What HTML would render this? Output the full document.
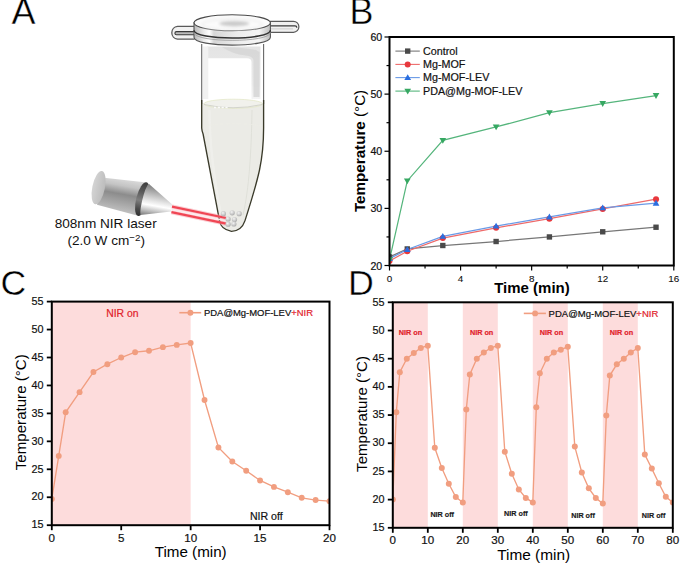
<!DOCTYPE html>
<html><head><meta charset="utf-8"><style>
html,body{margin:0;padding:0;background:#fff;}
body{width:685px;height:570px;overflow:hidden;font-family:"Liberation Sans", sans-serif;}
svg{display:block;}
</style></head><body>
<svg width="685" height="570" viewBox="0 0 685 570" font-family='"Liberation Sans", sans-serif'>
<rect width="685" height="570" fill="#fff"/>
<clipPath id="clipB"><rect x="389.5" y="37" width="284.3" height="228.5"/></clipPath>
<clipPath id="clipC"><rect x="51.8" y="301.6" width="277.7" height="223.6"/></clipPath>
<clipPath id="clipD"><rect x="392.8" y="302.3" width="280" height="225.5"/></clipPath>
<defs>
<linearGradient id="cyl" x1="0" y1="0" x2="0" y2="1">
<stop offset="0" stop-color="#f2f2f2"/><stop offset="0.35" stop-color="#bdbdbd"/><stop offset="0.6" stop-color="#8e8e8e"/><stop offset="0.85" stop-color="#b0b0b0"/><stop offset="1" stop-color="#d8d8d8"/>
</linearGradient>
<linearGradient id="cone" x1="0" y1="0" x2="0" y2="1">
<stop offset="0" stop-color="#9a9a9a"/><stop offset="0.35" stop-color="#e6e6e6"/><stop offset="0.7" stop-color="#bdbdbd"/><stop offset="1" stop-color="#7a7a7a"/>
</linearGradient>
<linearGradient id="endcap" x1="0" y1="0" x2="1" y2="0">
<stop offset="0" stop-color="#d0d0d0"/><stop offset="1" stop-color="#a8a8a8"/>
</linearGradient>
<linearGradient id="ring" x1="0" y1="0" x2="1" y2="0">
<stop offset="0" stop-color="#8a8a8a"/><stop offset="0.5" stop-color="#3a3a3a"/><stop offset="1" stop-color="#6a6a6a"/>
</linearGradient>
<radialGradient id="bead" cx="0.4" cy="0.35" r="0.7">
<stop offset="0" stop-color="#f4f4f4"/><stop offset="1" stop-color="#a9a9a9"/>
</radialGradient>
<linearGradient id="lidtop" x1="0" y1="0" x2="0" y2="1">
<stop offset="0" stop-color="#fafafa"/><stop offset="1" stop-color="#ececec"/>
</linearGradient>
</defs>
<text x="11.5" y="24.2" font-size="36" fill="#000" stroke="#fff" stroke-width="0.45">A</text>
<path d="M201.7,44 L201.7,128 Q201.9,131 203.1,134 L219.6,221 Q221,229.5 231.5,231.3 Q241.5,231 245,220.6 C250,205 256,186 259.5,170 C262,158 263.6,145 263.6,128 L263.6,44 Z" fill="#ffffff" stroke="none"/>
<linearGradient id="strip" x1="0" y1="0" x2="0" y2="1"><stop offset="0" stop-color="#e4e4e4"/><stop offset="0.7" stop-color="#eaeaea"/><stop offset="1" stop-color="#f4f4f4"/></linearGradient>
<path d="M207,46.5 L260.5,46.5 L260.5,99 L251.5,99 L251.5,62 Q251.5,58.5 247,58.3 L207,58.3 Z" fill="url(#strip)"/>
<path d="M222,47 Q245,47.5 256,50 L259.5,52 L259.5,97 L253.5,97 L253.5,60 Q252.5,56 246,55.5 Q232,54 222,47 Z" fill="#d6d6d6" opacity="0.85"/>
<path d="M202.7,46.5 L208.3,46.5 L208.3,99 L202.7,99 Z" fill="#f1f1f1"/>
<path d="M202.2,103.5 L202.2,128 Q202.4,131 203.6,134 L220.1,221 Q221.5,229 231.5,230.8 Q241,230.5 244.5,220.6 C249.5,205 255.5,186 259,170 C261.5,158 263.1,145 263.1,128 L263.1,103.5 Z" fill="#ebebe6"/>
<ellipse cx="233.2" cy="103.8" rx="29.2" ry="4.6" fill="#f1f1ec" stroke="#e2e6c4" stroke-width="0.7"/>
<path d="M204,104.5 Q233,111 262.3,104.5" fill="none" stroke="#cfd0c8" stroke-width="0.9"/>
<path d="M214,107.5 L229,107.5" stroke="#fafafa" stroke-width="1.6" stroke-dasharray="2.2 1.6"/>
<path d="M209.5,110 C209.5,140 214,180 222,220" stroke="#f0f0ec" stroke-width="2.4" fill="none" opacity="0.8"/>
<path d="M252,110 C251.5,150 249,190 243,215" stroke="#dcddd5" stroke-width="0.8" fill="none"/>
<path d="M203,126 Q233,121 263,126" stroke="#ecece6" stroke-width="0.8" fill="none"/>
<path d="M201.7,44 L201.7,104" stroke="#666" stroke-width="1.1" fill="none"/>
<path d="M263.6,44 L263.6,104" stroke="#666" stroke-width="1.1" fill="none"/>
<path d="M201.7,100 L201.7,128 Q201.9,131 203.1,134 L219.6,221 Q221,229.5 231.5,231.3 Q241.5,231 245,220.6 C250,205 256,186 259.5,170 C262,158 263.6,145 263.6,128 L263.6,100" stroke="#3a3a2a" stroke-width="1.35" fill="none"/>
<path d="M194.5,26.3 L177.5,26.3 A6.5,6.5 0 0 0 177.5,39.2 L194.5,39.2" fill="#f2f2f2" stroke="#5a5a5a" stroke-width="1.3"/>
<path d="M194.5,31.6 L176.5,31.6 A1.6,1.6 0 0 0 176.5,34.8 L194.5,34.8" fill="#bdbdbd" stroke="#3a3a3a" stroke-width="1.1"/>
<path d="M270,21.3 L293.5,21.3 A5.4,5.5 0 0 1 293.5,32.3 L270,32.3" fill="#f0f0f0" stroke="#5a5a5a" stroke-width="1.2"/>
<path d="M270,25.9 L295,25.9 A1.8,1.8 0 0 1 296.8,27.6" fill="none" stroke="#3a3a3a" stroke-width="1.3"/>
<path d="M271,28.8 L293,28.8" stroke="#dadada" stroke-width="1.6"/>
<linearGradient id="band" x1="0" y1="0" x2="1" y2="0"><stop offset="0" stop-color="#b8b8b8"/><stop offset="0.12" stop-color="#e8e8e8"/><stop offset="0.2" stop-color="#ffffff"/><stop offset="0.26" stop-color="#d6d6d6"/><stop offset="0.55" stop-color="#ececec"/><stop offset="0.85" stop-color="#f6f6f6"/><stop offset="1" stop-color="#bdbdbd"/></linearGradient>
<path d="M194,22.8 L194,37.2 C194,47.7 270.4,47.7 270.4,37.2 L270.4,22.8 Z" fill="url(#band)" stroke="#555" stroke-width="1.1"/>
<path d="M194,30.2 C194,40.7 270.4,40.7 270.4,30.2" fill="none" stroke="#333" stroke-width="1.5"/>
<path d="M194,32.5 C194,43 270.4,43 270.4,32.5" fill="none" stroke="#9a9a9a" stroke-width="0.8"/>
<ellipse cx="232.2" cy="22.8" rx="38.2" ry="8" fill="#fbfbfb" stroke="#4a4a4a" stroke-width="1.1"/>
<filter id="blur1" x="-50%" y="-50%" width="200%" height="200%"><feGaussianBlur stdDeviation="1.6"/></filter>
<ellipse cx="234.2" cy="23.6" rx="15" ry="2.8" fill="#cacaca" filter="url(#blur1)"/>
<ellipse cx="232.2" cy="24.5" rx="30" ry="5.6" fill="none" stroke="#ececec" stroke-width="1.5" filter="url(#blur1)"/>
<linearGradient id="body" x1="0" y1="0" x2="0" y2="1"><stop offset="0" stop-color="#e2e2e2"/><stop offset="0.18" stop-color="#cdcdcd"/><stop offset="0.42" stop-color="#8f8f8f"/><stop offset="0.7" stop-color="#ababab"/><stop offset="1" stop-color="#cbcbcb"/></linearGradient>
<linearGradient id="conegr" x1="0" y1="0" x2="0" y2="1"><stop offset="0" stop-color="#8c8c8c"/><stop offset="0.3" stop-color="#d9d9d9"/><stop offset="0.55" stop-color="#ffffff"/><stop offset="0.8" stop-color="#c4c4c4"/><stop offset="1" stop-color="#8a8a8a"/></linearGradient>
<linearGradient id="capgr" x1="0" y1="0" x2="1" y2="0"><stop offset="0" stop-color="#d4d4d4"/><stop offset="1" stop-color="#bcbcbc"/></linearGradient>
<linearGradient id="ringgr" x1="0" y1="0" x2="0" y2="1"><stop offset="0" stop-color="#5a5a5a"/><stop offset="0.5" stop-color="#2e2e2e"/><stop offset="1" stop-color="#4a4a4a"/></linearGradient>
<linearGradient id="body2" gradientUnits="userSpaceOnUse" x1="123" y1="179" x2="117" y2="212"><stop offset="0" stop-color="#d8d8d8"/><stop offset="0.2" stop-color="#c4c4c4"/><stop offset="0.45" stop-color="#8c8c8c"/><stop offset="0.75" stop-color="#a9a9a9"/><stop offset="1" stop-color="#c2c2c2"/></linearGradient>
<linearGradient id="cone2" gradientUnits="userSpaceOnUse" x1="154" y1="187" x2="149" y2="215"><stop offset="0" stop-color="#8a8a8a"/><stop offset="0.25" stop-color="#b8b8b8"/><stop offset="0.5" stop-color="#e6e6e6"/><stop offset="0.65" stop-color="#ffffff"/><stop offset="0.85" stop-color="#c0c0c0"/><stop offset="1" stop-color="#8a8a8a"/></linearGradient>
<linearGradient id="ring2" gradientUnits="userSpaceOnUse" x1="0" y1="-17.4" x2="0" y2="17.4"><stop offset="0" stop-color="#3c3c3c"/><stop offset="0.3" stop-color="#5a5a5a"/><stop offset="0.55" stop-color="#7e7e7e"/><stop offset="0.8" stop-color="#4a4a4a"/><stop offset="1" stop-color="#303030"/></linearGradient>
<path d="M102,177.6 L144.4,182.3 L137,215.6 L97,204.8 Z" fill="url(#body2)"/>
<ellipse cx="0" cy="0" rx="6.3" ry="16.9" fill="url(#capgr)" transform="translate(98.6 187.6) rotate(11.5)"/>
<ellipse cx="0" cy="0" rx="6" ry="17.4" fill="url(#ring2)" transform="translate(142.2 199.1) rotate(14)"/>
<path d="M149.6,184.6 L172.3,204.6 L171,211.4 L140.6,215 A2.6,15.6 14 0 1 149.6,184.6 Z" fill="url(#cone2)"/>
<path d="M172,206.6 L226,218" stroke="#f7a9b1" stroke-width="4.2" opacity="0.55"/>
<path d="M171.4,212.2 L226,223.7" stroke="#f7a9b1" stroke-width="4.2" opacity="0.55"/>
<path d="M172,206.6 L226,218" stroke="#f04654" stroke-width="2.2"/>
<path d="M171.4,212.2 L226,223.7" stroke="#f04654" stroke-width="2.2"/>
<path d="M171.7,209.4 L226,220.85" stroke="#fde8ea" stroke-width="1.2"/>
<circle cx="223.4" cy="213.7" r="2.6" fill="url(#bead)"/>
<circle cx="232.2" cy="212.8" r="2.6" fill="url(#bead)"/>
<circle cx="239.2" cy="213.7" r="2.6" fill="url(#bead)"/>
<circle cx="228.1" cy="219" r="2.6" fill="url(#bead)"/>
<circle cx="234.5" cy="219.5" r="2.6" fill="url(#bead)"/>
<circle cx="228.1" cy="224.2" r="2.6" fill="url(#bead)"/>
<circle cx="233.9" cy="224" r="2.6" fill="url(#bead)"/>
<text x="105.7" y="228" font-size="13.6" text-anchor="middle" fill="#111">808nm NIR laser</text>
<text x="106.2" y="245" font-size="13.6" text-anchor="middle" fill="#111">(2.0 W cm<tspan font-size="9.8" dy="-4.4">−2</tspan><tspan dy="4.4">)</tspan></text>
<text x="349.6" y="24.2" font-size="36" fill="#000" stroke="#fff" stroke-width="0.45">B</text>
<line x1="384.5" y1="265.5" x2="389.5" y2="265.5" stroke="#000" stroke-width="1.2"/>
<line x1="386.5" y1="236.94" x2="389.5" y2="236.94" stroke="#000" stroke-width="1.2"/>
<line x1="384.5" y1="208.38" x2="389.5" y2="208.38" stroke="#000" stroke-width="1.2"/>
<line x1="386.5" y1="179.81" x2="389.5" y2="179.81" stroke="#000" stroke-width="1.2"/>
<line x1="384.5" y1="151.25" x2="389.5" y2="151.25" stroke="#000" stroke-width="1.2"/>
<line x1="386.5" y1="122.69" x2="389.5" y2="122.69" stroke="#000" stroke-width="1.2"/>
<line x1="384.5" y1="94.12" x2="389.5" y2="94.12" stroke="#000" stroke-width="1.2"/>
<line x1="386.5" y1="65.56" x2="389.5" y2="65.56" stroke="#000" stroke-width="1.2"/>
<line x1="384.5" y1="37" x2="389.5" y2="37" stroke="#000" stroke-width="1.2"/>
<text x="382.2" y="269.6" font-size="10.6" text-anchor="end" fill="#111" stroke="#111" stroke-width="0.2">20</text>
<text x="382.2" y="212.47" font-size="10.6" text-anchor="end" fill="#111" stroke="#111" stroke-width="0.2">30</text>
<text x="382.2" y="155.35" font-size="10.6" text-anchor="end" fill="#111" stroke="#111" stroke-width="0.2">40</text>
<text x="382.2" y="98.22" font-size="10.6" text-anchor="end" fill="#111" stroke="#111" stroke-width="0.2">50</text>
<text x="382.2" y="41.1" font-size="10.6" text-anchor="end" fill="#111" stroke="#111" stroke-width="0.2">60</text>
<line x1="389.5" y1="265.5" x2="389.5" y2="270.5" stroke="#000" stroke-width="1.2"/>
<line x1="425.04" y1="265.5" x2="425.04" y2="268.5" stroke="#000" stroke-width="1.2"/>
<line x1="460.57" y1="265.5" x2="460.57" y2="270.5" stroke="#000" stroke-width="1.2"/>
<line x1="496.11" y1="265.5" x2="496.11" y2="268.5" stroke="#000" stroke-width="1.2"/>
<line x1="531.65" y1="265.5" x2="531.65" y2="270.5" stroke="#000" stroke-width="1.2"/>
<line x1="567.19" y1="265.5" x2="567.19" y2="268.5" stroke="#000" stroke-width="1.2"/>
<line x1="602.72" y1="265.5" x2="602.72" y2="270.5" stroke="#000" stroke-width="1.2"/>
<line x1="638.26" y1="265.5" x2="638.26" y2="268.5" stroke="#000" stroke-width="1.2"/>
<line x1="673.8" y1="265.5" x2="673.8" y2="270.5" stroke="#000" stroke-width="1.2"/>
<text x="389.5" y="281.7" font-size="9.9" text-anchor="middle" fill="#111" stroke="#111" stroke-width="0.1">0</text>
<text x="460.57" y="281.7" font-size="9.9" text-anchor="middle" fill="#111" stroke="#111" stroke-width="0.1">4</text>
<text x="531.65" y="281.7" font-size="9.9" text-anchor="middle" fill="#111" stroke="#111" stroke-width="0.1">8</text>
<text x="602.72" y="281.7" font-size="9.9" text-anchor="middle" fill="#111" stroke="#111" stroke-width="0.1">12</text>
<text x="673.8" y="281.7" font-size="9.9" text-anchor="middle" fill="#111" stroke="#111" stroke-width="0.1">16</text>
<text x="532" y="292.8" font-size="15" font-weight="bold" text-anchor="middle" fill="#000">Time (min)</text>
<text transform="translate(364.5 212.1) rotate(-90)" font-size="15.2" fill="#000"><tspan font-weight="bold">Temperature</tspan> (°C)</text>
<g clip-path="url(#clipB)">
<polyline points="389.5,256.93 407.27,248.93 442.81,245.51 496.11,241.51 549.42,236.94 602.72,231.8 656.03,227.23" fill="none" stroke="#777" stroke-width="1.25"/>
<polyline points="389.5,260.93 407.27,251.22 442.81,238.08 496.11,227.8 549.42,218.66 602.72,208.95 656.03,199.23" fill="none" stroke="#ee6a6a" stroke-width="1.25"/>
<polyline points="389.5,258.64 407.27,249.5 442.81,236.37 496.11,226.08 549.42,216.94 602.72,207.8 656.03,203.23" fill="none" stroke="#6a9ae6" stroke-width="1.25"/>
<polyline points="389.5,259.79 407.27,180.96 442.81,140.4 496.11,126.97 549.42,112.69 602.72,103.55 656.03,95.55" fill="none" stroke="#55b57c" stroke-width="1.25"/>
<rect x="386.81" y="254.24" width="5.38" height="5.38" fill="#4a4a4a"/>
<rect x="404.58" y="246.25" width="5.38" height="5.38" fill="#4a4a4a"/>
<rect x="440.12" y="242.82" width="5.38" height="5.38" fill="#4a4a4a"/>
<rect x="493.42" y="238.82" width="5.38" height="5.38" fill="#4a4a4a"/>
<rect x="546.73" y="234.25" width="5.38" height="5.38" fill="#4a4a4a"/>
<rect x="600.04" y="229.11" width="5.38" height="5.38" fill="#4a4a4a"/>
<rect x="653.34" y="224.54" width="5.38" height="5.38" fill="#4a4a4a"/>
<circle cx="389.5" cy="260.93" r="3.02" fill="#e8383d"/>
<circle cx="407.27" cy="251.22" r="3.02" fill="#e8383d"/>
<circle cx="442.81" cy="238.08" r="3.02" fill="#e8383d"/>
<circle cx="496.11" cy="227.8" r="3.02" fill="#e8383d"/>
<circle cx="549.42" cy="218.66" r="3.02" fill="#e8383d"/>
<circle cx="602.72" cy="208.95" r="3.02" fill="#e8383d"/>
<circle cx="656.03" cy="199.23" r="3.02" fill="#e8383d"/>
<path d="M389.5,255.28 L392.86,261.11 L386.14,261.11 Z" fill="#2a6ee0"/>
<path d="M407.27,246.14 L410.63,251.97 L403.91,251.97 Z" fill="#2a6ee0"/>
<path d="M442.81,233.01 L446.17,238.83 L439.45,238.83 Z" fill="#2a6ee0"/>
<path d="M496.11,222.72 L499.47,228.55 L492.75,228.55 Z" fill="#2a6ee0"/>
<path d="M549.42,213.58 L552.78,219.41 L546.06,219.41 Z" fill="#2a6ee0"/>
<path d="M602.72,204.44 L606.08,210.27 L599.36,210.27 Z" fill="#2a6ee0"/>
<path d="M656.03,199.87 L659.39,205.7 L652.67,205.7 Z" fill="#2a6ee0"/>
<path d="M389.5,263.15 L392.86,257.32 L386.14,257.32 Z" fill="#36a862"/>
<path d="M407.27,184.32 L410.63,178.49 L403.91,178.49 Z" fill="#36a862"/>
<path d="M442.81,143.76 L446.17,137.93 L439.45,137.93 Z" fill="#36a862"/>
<path d="M496.11,130.33 L499.47,124.51 L492.75,124.51 Z" fill="#36a862"/>
<path d="M549.42,116.05 L552.78,110.23 L546.06,110.23 Z" fill="#36a862"/>
<path d="M602.72,106.91 L606.08,101.09 L599.36,101.09 Z" fill="#36a862"/>
<path d="M656.03,98.91 L659.39,93.09 L652.67,93.09 Z" fill="#36a862"/>
</g>
<line x1="395.4" y1="51.1" x2="419.8" y2="51.1" stroke="#777" stroke-width="1.1"/>
<rect x="405.01" y="48.41" width="5.38" height="5.38" fill="#4a4a4a"/>
<text x="423" y="54.8" font-size="10.75" fill="#111" stroke="#111" stroke-width="0.2">Control</text>
<line x1="395.4" y1="64.4" x2="419.8" y2="64.4" stroke="#ee6a6a" stroke-width="1.1"/>
<circle cx="407.7" cy="64.4" r="3.02" fill="#e8383d"/>
<text x="423" y="68.1" font-size="10.75" fill="#111" stroke="#111" stroke-width="0.2">Mg-MOF</text>
<line x1="395.4" y1="77.6" x2="419.8" y2="77.6" stroke="#6a9ae6" stroke-width="1.1"/>
<path d="M407.7,74.24 L411.06,80.06 L404.34,80.06 Z" fill="#2a6ee0"/>
<text x="423" y="81.3" font-size="10.75" fill="#111" stroke="#111" stroke-width="0.2">Mg-MOF-LEV</text>
<line x1="395.4" y1="91.1" x2="419.8" y2="91.1" stroke="#55b57c" stroke-width="1.1"/>
<path d="M407.7,94.46 L411.06,88.64 L404.34,88.64 Z" fill="#36a862"/>
<text x="423" y="94.8" font-size="10.75" fill="#111" stroke="#111" stroke-width="0.2">PDA@Mg-MOF-LEV</text>
<rect x="389.5" y="37" width="284.3" height="228.5" fill="none" stroke="#000" stroke-width="2"/>
<text x="0.6" y="295.0" font-size="35.6" fill="#000" stroke="#fff" stroke-width="0.45">C</text>
<rect x="51.8" y="301.6" width="138.85" height="223.6" fill="#fddcdc"/>
<line x1="46.8" y1="525.2" x2="51.8" y2="525.2" stroke="#000" stroke-width="1.8"/>
<text transform="translate(43.6 528.4) scale(0.92 1)" font-size="11.8" text-anchor="end" fill="#111" stroke="#111" stroke-width="0.2">15</text>
<line x1="46.8" y1="497.25" x2="51.8" y2="497.25" stroke="#000" stroke-width="1.8"/>
<text transform="translate(43.6 500.45) scale(0.92 1)" font-size="11.8" text-anchor="end" fill="#111" stroke="#111" stroke-width="0.2">20</text>
<line x1="46.8" y1="469.3" x2="51.8" y2="469.3" stroke="#000" stroke-width="1.8"/>
<text transform="translate(43.6 472.5) scale(0.92 1)" font-size="11.8" text-anchor="end" fill="#111" stroke="#111" stroke-width="0.2">25</text>
<line x1="46.8" y1="441.35" x2="51.8" y2="441.35" stroke="#000" stroke-width="1.8"/>
<text transform="translate(43.6 444.55) scale(0.92 1)" font-size="11.8" text-anchor="end" fill="#111" stroke="#111" stroke-width="0.2">30</text>
<line x1="46.8" y1="413.4" x2="51.8" y2="413.4" stroke="#000" stroke-width="1.8"/>
<text transform="translate(43.6 416.6) scale(0.92 1)" font-size="11.8" text-anchor="end" fill="#111" stroke="#111" stroke-width="0.2">35</text>
<line x1="46.8" y1="385.45" x2="51.8" y2="385.45" stroke="#000" stroke-width="1.8"/>
<text transform="translate(43.6 388.65) scale(0.92 1)" font-size="11.8" text-anchor="end" fill="#111" stroke="#111" stroke-width="0.2">40</text>
<line x1="46.8" y1="357.5" x2="51.8" y2="357.5" stroke="#000" stroke-width="1.8"/>
<text transform="translate(43.6 360.7) scale(0.92 1)" font-size="11.8" text-anchor="end" fill="#111" stroke="#111" stroke-width="0.2">45</text>
<line x1="46.8" y1="329.55" x2="51.8" y2="329.55" stroke="#000" stroke-width="1.8"/>
<text transform="translate(43.6 332.75) scale(0.92 1)" font-size="11.8" text-anchor="end" fill="#111" stroke="#111" stroke-width="0.2">50</text>
<line x1="46.8" y1="301.6" x2="51.8" y2="301.6" stroke="#000" stroke-width="1.8"/>
<text transform="translate(43.6 304.8) scale(0.92 1)" font-size="11.8" text-anchor="end" fill="#111" stroke="#111" stroke-width="0.2">55</text>
<line x1="51.8" y1="525.2" x2="51.8" y2="530.2" stroke="#000" stroke-width="1.8"/>
<text x="51.8" y="541.8" font-size="11.6" text-anchor="middle" fill="#111" stroke="#111" stroke-width="0.2">0</text>
<line x1="121.22" y1="525.2" x2="121.22" y2="530.2" stroke="#000" stroke-width="1.8"/>
<text x="121.22" y="541.8" font-size="11.6" text-anchor="middle" fill="#111" stroke="#111" stroke-width="0.2">5</text>
<line x1="190.65" y1="525.2" x2="190.65" y2="530.2" stroke="#000" stroke-width="1.8"/>
<text x="190.65" y="541.8" font-size="11.6" text-anchor="middle" fill="#111" stroke="#111" stroke-width="0.2">10</text>
<line x1="260.07" y1="525.2" x2="260.07" y2="530.2" stroke="#000" stroke-width="1.8"/>
<text x="260.07" y="541.8" font-size="11.6" text-anchor="middle" fill="#111" stroke="#111" stroke-width="0.2">15</text>
<line x1="329.5" y1="525.2" x2="329.5" y2="530.2" stroke="#000" stroke-width="1.8"/>
<text x="329.5" y="541.8" font-size="11.6" text-anchor="middle" fill="#111" stroke="#111" stroke-width="0.2">20</text>
<text x="190.7" y="556.8" font-size="15.2" text-anchor="middle" fill="#000">Time (min)</text>
<text transform="translate(26.1 470.2) rotate(-90)" font-size="15.1" fill="#000">Temperature (°C)</text>
<g clip-path="url(#clipC)">
<polyline points="51.8,498.93 58.74,455.88 65.69,412.28 79.57,392.16 93.45,372.03 107.34,364.21 121.22,357.5 135.11,352.19 149,350.79 162.88,347.16 176.76,344.92 190.65,342.97 204.53,399.98 218.42,447.5 232.31,461.47 246.19,470.7 260.07,480.48 273.96,486.91 287.84,492.22 301.73,497.81 315.62,500.05 329.5,501.16" fill="none" stroke="#f19e80" stroke-width="1.35"/>
<circle cx="51.8" cy="498.93" r="2.95" fill="#f19e80"/>
<circle cx="58.74" cy="455.88" r="2.95" fill="#f19e80"/>
<circle cx="65.69" cy="412.28" r="2.95" fill="#f19e80"/>
<circle cx="79.57" cy="392.16" r="2.95" fill="#f19e80"/>
<circle cx="93.45" cy="372.03" r="2.95" fill="#f19e80"/>
<circle cx="107.34" cy="364.21" r="2.95" fill="#f19e80"/>
<circle cx="121.22" cy="357.5" r="2.95" fill="#f19e80"/>
<circle cx="135.11" cy="352.19" r="2.95" fill="#f19e80"/>
<circle cx="149" cy="350.79" r="2.95" fill="#f19e80"/>
<circle cx="162.88" cy="347.16" r="2.95" fill="#f19e80"/>
<circle cx="176.76" cy="344.92" r="2.95" fill="#f19e80"/>
<circle cx="190.65" cy="342.97" r="2.95" fill="#f19e80"/>
<circle cx="204.53" cy="399.98" r="2.95" fill="#f19e80"/>
<circle cx="218.42" cy="447.5" r="2.95" fill="#f19e80"/>
<circle cx="232.31" cy="461.47" r="2.95" fill="#f19e80"/>
<circle cx="246.19" cy="470.7" r="2.95" fill="#f19e80"/>
<circle cx="260.07" cy="480.48" r="2.95" fill="#f19e80"/>
<circle cx="273.96" cy="486.91" r="2.95" fill="#f19e80"/>
<circle cx="287.84" cy="492.22" r="2.95" fill="#f19e80"/>
<circle cx="301.73" cy="497.81" r="2.95" fill="#f19e80"/>
<circle cx="315.62" cy="500.05" r="2.95" fill="#f19e80"/>
<circle cx="329.5" cy="501.16" r="2.95" fill="#f19e80"/>
</g>
<text x="122.3" y="316.5" font-size="10.4" text-anchor="middle" fill="#e1222b" stroke="#e1222b" stroke-width="0.2">NIR on</text>
<text x="266.3" y="519.8" font-size="10.6" text-anchor="middle" fill="#111" stroke="#111" stroke-width="0.2">NIR off</text>
<line x1="179.3" y1="312.7" x2="201.2" y2="312.7" stroke="#f19e80" stroke-width="1.6"/>
<circle cx="190.4" cy="312.7" r="2.95" fill="#f19e80"/>
<text x="204" y="316.1" font-size="9.45" fill="#111" stroke="#111" stroke-width="0.2">PDA@Mg-MOF-LEV<tspan fill="#e1222b" stroke="#e1222b" stroke-width="0.2">+NIR</tspan></text>
<rect x="51.8" y="301.6" width="277.7" height="223.6" fill="none" stroke="#000" stroke-width="2"/>
<text x="348.0" y="295.1" font-size="35.8" fill="#000" stroke="#fff" stroke-width="0.45">D</text>
<rect x="392.8" y="302.3" width="35" height="225.5" fill="#fddcdc"/>
<rect x="462.8" y="302.3" width="35" height="225.5" fill="#fddcdc"/>
<rect x="532.8" y="302.3" width="35" height="225.5" fill="#fddcdc"/>
<rect x="602.8" y="302.3" width="35" height="225.5" fill="#fddcdc"/>
<line x1="387.8" y1="527.8" x2="392.8" y2="527.8" stroke="#000" stroke-width="1.8"/>
<text transform="translate(384.6 531) scale(0.92 1)" font-size="11.8" text-anchor="end" fill="#111" stroke="#111" stroke-width="0.2">15</text>
<line x1="387.8" y1="499.61" x2="392.8" y2="499.61" stroke="#000" stroke-width="1.8"/>
<text transform="translate(384.6 502.81) scale(0.92 1)" font-size="11.8" text-anchor="end" fill="#111" stroke="#111" stroke-width="0.2">20</text>
<line x1="387.8" y1="471.42" x2="392.8" y2="471.42" stroke="#000" stroke-width="1.8"/>
<text transform="translate(384.6 474.62) scale(0.92 1)" font-size="11.8" text-anchor="end" fill="#111" stroke="#111" stroke-width="0.2">25</text>
<line x1="387.8" y1="443.24" x2="392.8" y2="443.24" stroke="#000" stroke-width="1.8"/>
<text transform="translate(384.6 446.44) scale(0.92 1)" font-size="11.8" text-anchor="end" fill="#111" stroke="#111" stroke-width="0.2">30</text>
<line x1="387.8" y1="415.05" x2="392.8" y2="415.05" stroke="#000" stroke-width="1.8"/>
<text transform="translate(384.6 418.25) scale(0.92 1)" font-size="11.8" text-anchor="end" fill="#111" stroke="#111" stroke-width="0.2">35</text>
<line x1="387.8" y1="386.86" x2="392.8" y2="386.86" stroke="#000" stroke-width="1.8"/>
<text transform="translate(384.6 390.06) scale(0.92 1)" font-size="11.8" text-anchor="end" fill="#111" stroke="#111" stroke-width="0.2">40</text>
<line x1="387.8" y1="358.68" x2="392.8" y2="358.68" stroke="#000" stroke-width="1.8"/>
<text transform="translate(384.6 361.88) scale(0.92 1)" font-size="11.8" text-anchor="end" fill="#111" stroke="#111" stroke-width="0.2">45</text>
<line x1="387.8" y1="330.49" x2="392.8" y2="330.49" stroke="#000" stroke-width="1.8"/>
<text transform="translate(384.6 333.69) scale(0.92 1)" font-size="11.8" text-anchor="end" fill="#111" stroke="#111" stroke-width="0.2">50</text>
<line x1="387.8" y1="302.3" x2="392.8" y2="302.3" stroke="#000" stroke-width="1.8"/>
<text transform="translate(384.6 305.5) scale(0.92 1)" font-size="11.8" text-anchor="end" fill="#111" stroke="#111" stroke-width="0.2">55</text>
<line x1="392.8" y1="527.8" x2="392.8" y2="532.8" stroke="#000" stroke-width="1.8"/>
<text x="392.8" y="544.2" font-size="11.6" text-anchor="middle" fill="#111" stroke="#111" stroke-width="0.2">0</text>
<line x1="427.8" y1="527.8" x2="427.8" y2="532.8" stroke="#000" stroke-width="1.8"/>
<text x="427.8" y="544.2" font-size="11.6" text-anchor="middle" fill="#111" stroke="#111" stroke-width="0.2">10</text>
<line x1="462.8" y1="527.8" x2="462.8" y2="532.8" stroke="#000" stroke-width="1.8"/>
<text x="462.8" y="544.2" font-size="11.6" text-anchor="middle" fill="#111" stroke="#111" stroke-width="0.2">20</text>
<line x1="497.8" y1="527.8" x2="497.8" y2="532.8" stroke="#000" stroke-width="1.8"/>
<text x="497.8" y="544.2" font-size="11.6" text-anchor="middle" fill="#111" stroke="#111" stroke-width="0.2">30</text>
<line x1="532.8" y1="527.8" x2="532.8" y2="532.8" stroke="#000" stroke-width="1.8"/>
<text x="532.8" y="544.2" font-size="11.6" text-anchor="middle" fill="#111" stroke="#111" stroke-width="0.2">40</text>
<line x1="567.8" y1="527.8" x2="567.8" y2="532.8" stroke="#000" stroke-width="1.8"/>
<text x="567.8" y="544.2" font-size="11.6" text-anchor="middle" fill="#111" stroke="#111" stroke-width="0.2">50</text>
<line x1="602.8" y1="527.8" x2="602.8" y2="532.8" stroke="#000" stroke-width="1.8"/>
<text x="602.8" y="544.2" font-size="11.6" text-anchor="middle" fill="#111" stroke="#111" stroke-width="0.2">60</text>
<line x1="637.8" y1="527.8" x2="637.8" y2="532.8" stroke="#000" stroke-width="1.8"/>
<text x="637.8" y="544.2" font-size="11.6" text-anchor="middle" fill="#111" stroke="#111" stroke-width="0.2">70</text>
<line x1="672.8" y1="527.8" x2="672.8" y2="532.8" stroke="#000" stroke-width="1.8"/>
<text x="672.8" y="544.2" font-size="11.6" text-anchor="middle" fill="#111" stroke="#111" stroke-width="0.2">80</text>
<text x="533.7" y="559.8" font-size="15.4" text-anchor="middle" fill="#000">Time (min)</text>
<text transform="translate(366.6 471.9) rotate(-90)" font-size="15.1" fill="#000">Temperature (°C)</text>
<g clip-path="url(#clipD)">
<polyline points="392.8,499.61 396.3,412.23 399.8,372.2 406.8,358.68 413.8,353.04 420.8,347.96 427.8,345.71 434.8,447.75 441.8,468.04 448.8,483.83 455.8,497.08 462.8,502.43 466.3,409.41 469.8,374.46 476.8,358.68 483.8,352.47 490.8,347.96 497.8,345.71 504.8,451.69 511.8,473.68 518.8,489.46 525.8,497.92 532.8,502.43 536.3,407.16 539.8,373.33 546.8,358.68 553.8,352.47 560.8,349.65 567.8,346.84 574.8,446.62 581.8,472.55 588.8,488.34 595.8,497.92 602.8,503.56 606.3,415.61 609.8,375.59 616.8,364.31 623.8,358.68 630.8,352.47 637.8,347.96 644.8,454.51 651.8,468.61 658.8,483.26 665.8,496.79 672.8,502.43" fill="none" stroke="#f19e80" stroke-width="1.35"/>
<circle cx="392.8" cy="499.61" r="3.0" fill="#f19e80"/>
<circle cx="396.3" cy="412.23" r="3.0" fill="#f19e80"/>
<circle cx="399.8" cy="372.2" r="3.0" fill="#f19e80"/>
<circle cx="406.8" cy="358.68" r="3.0" fill="#f19e80"/>
<circle cx="413.8" cy="353.04" r="3.0" fill="#f19e80"/>
<circle cx="420.8" cy="347.96" r="3.0" fill="#f19e80"/>
<circle cx="427.8" cy="345.71" r="3.0" fill="#f19e80"/>
<circle cx="434.8" cy="447.75" r="3.0" fill="#f19e80"/>
<circle cx="441.8" cy="468.04" r="3.0" fill="#f19e80"/>
<circle cx="448.8" cy="483.83" r="3.0" fill="#f19e80"/>
<circle cx="455.8" cy="497.08" r="3.0" fill="#f19e80"/>
<circle cx="462.8" cy="502.43" r="3.0" fill="#f19e80"/>
<circle cx="466.3" cy="409.41" r="3.0" fill="#f19e80"/>
<circle cx="469.8" cy="374.46" r="3.0" fill="#f19e80"/>
<circle cx="476.8" cy="358.68" r="3.0" fill="#f19e80"/>
<circle cx="483.8" cy="352.47" r="3.0" fill="#f19e80"/>
<circle cx="490.8" cy="347.96" r="3.0" fill="#f19e80"/>
<circle cx="497.8" cy="345.71" r="3.0" fill="#f19e80"/>
<circle cx="504.8" cy="451.69" r="3.0" fill="#f19e80"/>
<circle cx="511.8" cy="473.68" r="3.0" fill="#f19e80"/>
<circle cx="518.8" cy="489.46" r="3.0" fill="#f19e80"/>
<circle cx="525.8" cy="497.92" r="3.0" fill="#f19e80"/>
<circle cx="532.8" cy="502.43" r="3.0" fill="#f19e80"/>
<circle cx="536.3" cy="407.16" r="3.0" fill="#f19e80"/>
<circle cx="539.8" cy="373.33" r="3.0" fill="#f19e80"/>
<circle cx="546.8" cy="358.68" r="3.0" fill="#f19e80"/>
<circle cx="553.8" cy="352.47" r="3.0" fill="#f19e80"/>
<circle cx="560.8" cy="349.65" r="3.0" fill="#f19e80"/>
<circle cx="567.8" cy="346.84" r="3.0" fill="#f19e80"/>
<circle cx="574.8" cy="446.62" r="3.0" fill="#f19e80"/>
<circle cx="581.8" cy="472.55" r="3.0" fill="#f19e80"/>
<circle cx="588.8" cy="488.34" r="3.0" fill="#f19e80"/>
<circle cx="595.8" cy="497.92" r="3.0" fill="#f19e80"/>
<circle cx="602.8" cy="503.56" r="3.0" fill="#f19e80"/>
<circle cx="606.3" cy="415.61" r="3.0" fill="#f19e80"/>
<circle cx="609.8" cy="375.59" r="3.0" fill="#f19e80"/>
<circle cx="616.8" cy="364.31" r="3.0" fill="#f19e80"/>
<circle cx="623.8" cy="358.68" r="3.0" fill="#f19e80"/>
<circle cx="630.8" cy="352.47" r="3.0" fill="#f19e80"/>
<circle cx="637.8" cy="347.96" r="3.0" fill="#f19e80"/>
<circle cx="644.8" cy="454.51" r="3.0" fill="#f19e80"/>
<circle cx="651.8" cy="468.61" r="3.0" fill="#f19e80"/>
<circle cx="658.8" cy="483.26" r="3.0" fill="#f19e80"/>
<circle cx="665.8" cy="496.79" r="3.0" fill="#f19e80"/>
<circle cx="672.8" cy="502.43" r="3.0" fill="#f19e80"/>
</g>
<text x="398.7" y="335.2" font-size="7.7" font-weight="bold" textLength="23.4" lengthAdjust="spacingAndGlyphs" fill="#e1222b" stroke="#e1222b" stroke-width="0.2">NIR on</text>
<text x="469.9" y="335.2" font-size="7.7" font-weight="bold" textLength="23.4" lengthAdjust="spacingAndGlyphs" fill="#e1222b" stroke="#e1222b" stroke-width="0.2">NIR on</text>
<text x="539.8" y="335.2" font-size="7.7" font-weight="bold" textLength="23.4" lengthAdjust="spacingAndGlyphs" fill="#e1222b" stroke="#e1222b" stroke-width="0.2">NIR on</text>
<text x="609.8" y="335.2" font-size="7.7" font-weight="bold" textLength="23.4" lengthAdjust="spacingAndGlyphs" fill="#e1222b" stroke="#e1222b" stroke-width="0.2">NIR on</text>
<text x="430.4" y="516.6" font-size="8" font-weight="bold" textLength="23.6" lengthAdjust="spacingAndGlyphs" fill="#1a1a1a" stroke="#1a1a1a" stroke-width="0.2">NIR off</text>
<text x="504.1" y="515.8" font-size="8" font-weight="bold" textLength="23.6" lengthAdjust="spacingAndGlyphs" fill="#1a1a1a" stroke="#1a1a1a" stroke-width="0.2">NIR off</text>
<text x="571.2" y="517.8" font-size="8" font-weight="bold" textLength="23.6" lengthAdjust="spacingAndGlyphs" fill="#1a1a1a" stroke="#1a1a1a" stroke-width="0.2">NIR off</text>
<text x="641.8" y="518.4" font-size="8" font-weight="bold" textLength="23.6" lengthAdjust="spacingAndGlyphs" fill="#1a1a1a" stroke="#1a1a1a" stroke-width="0.2">NIR off</text>
<line x1="523.8" y1="313.4" x2="545.9" y2="313.4" stroke="#f19e80" stroke-width="1.6"/>
<circle cx="535.1" cy="313.4" r="2.95" fill="#f19e80"/>
<text x="548.6" y="316.8" font-size="9.5" fill="#111" stroke="#111" stroke-width="0.2">PDA@Mg-MOF-LEV<tspan fill="#e1222b" stroke="#e1222b" stroke-width="0.2">+NIR</tspan></text>
<rect x="392.8" y="302.3" width="280" height="225.5" fill="none" stroke="#000" stroke-width="2"/>
</svg>
</body></html>
